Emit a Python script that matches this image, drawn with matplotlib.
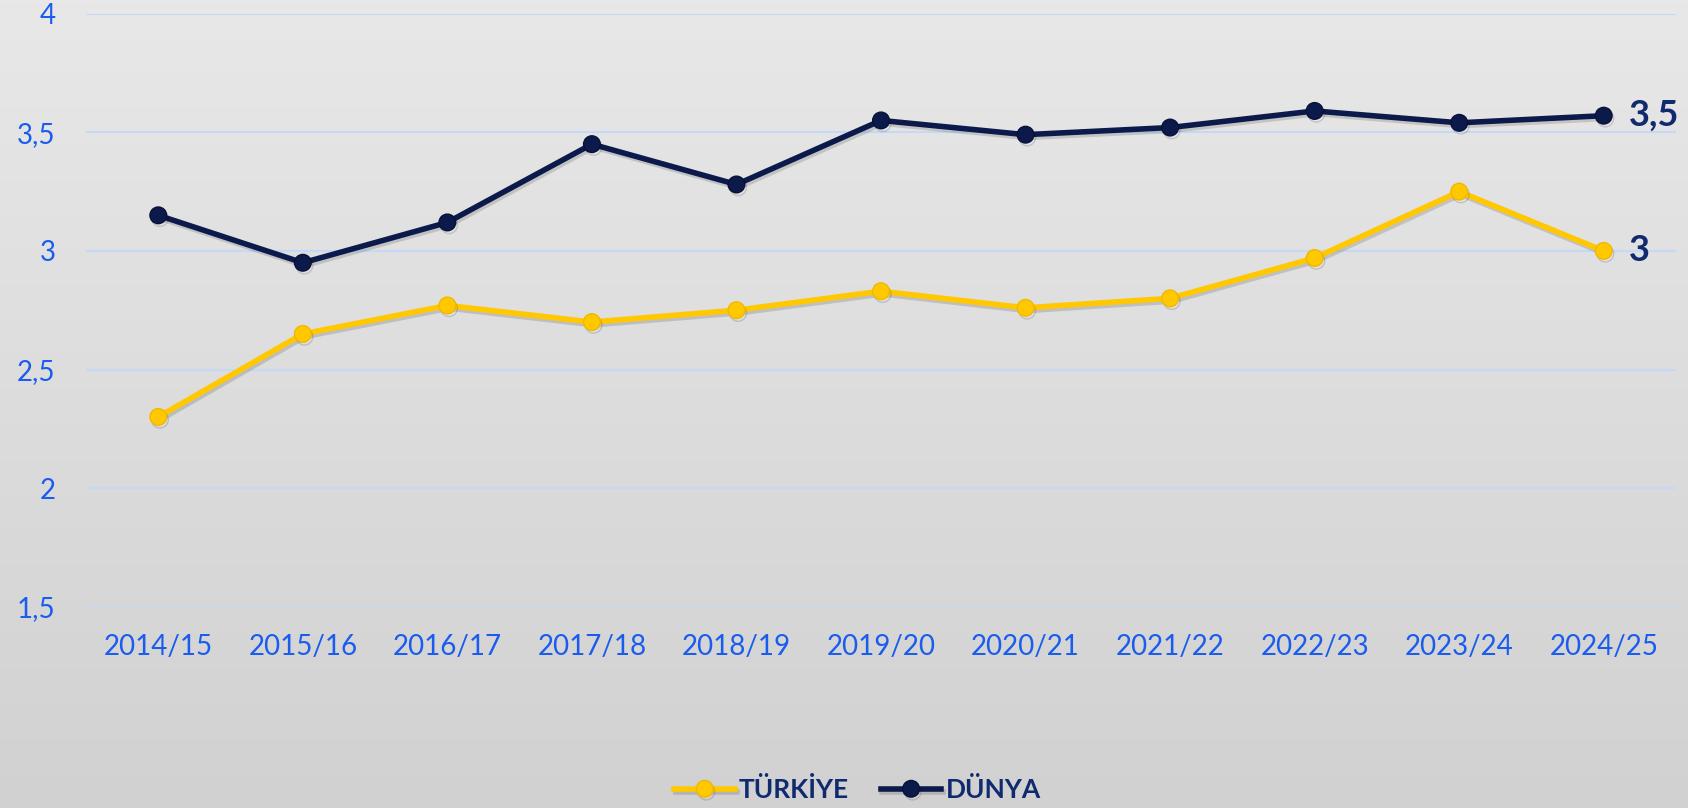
import matplotlib.pyplot as plt
import matplotlib.patheffects as pe
import numpy as np

seasons = ['2014/15', '2015/16', '2016/17', '2017/18', '2018/19', '2019/20',
           '2020/21', '2021/22', '2022/23', '2023/24', '2024/25']
turkiye = [2.30, 2.65, 2.77, 2.70, 2.75, 2.83, 2.76, 2.80, 2.97, 3.25, 3.00]
dunya = [3.15, 2.95, 3.12, 3.45, 3.28, 3.55, 3.49, 3.52, 3.59, 3.54, 3.57]
yticks = [1.5, 2, 2.5, 3, 3.5, 4]
ytick_labels = ['1,5', '2', '2,5', '3', '3,5', '4']
end_labels = ['3', '3,5']

yellow = '#ffc800'
navy = '#0b1a4a'
tick_blue = '#1a5ced'
text_navy = '#0f2a6e'

plt.rcParams['font.family'] = ['Lato', 'DejaVu Sans']

fig = plt.figure(figsize=(16.88, 8.08), dpi=100)

# grey gradient background
bg = fig.add_axes([0, 0, 1, 1], zorder=-10)
grad = np.linspace(0.91, 0.82, 256).reshape(-1, 1)
bg.imshow(np.dstack([grad, grad, grad]), aspect='auto', extent=[0, 1, 0, 1])
bg.axis('off')

ax = fig.add_axes([86 / 1688, 1 - 606.7 / 808, (1676 - 86) / 1688, (606.7 - 13.7) / 808])
ax.patch.set_alpha(0)

x = np.arange(len(seasons))
shadow = [pe.SimpleLineShadow(offset=(1.2, -2), alpha=0.14, rho=0.5), pe.Normal()]

ax.plot(x, turkiye, color=yellow, lw=4, marker='o', markersize=12,
        markerfacecolor=yellow, markeredgecolor='#f2b800', label='TÜRKİYE',
        path_effects=shadow, zorder=3)
ax.plot(x, dunya, color=navy, lw=4, marker='o', markersize=12,
        markerfacecolor=navy, markeredgecolor='#071238', label='DÜNYA',
        path_effects=shadow, zorder=4)

ax.annotate(end_labels[0], (x[-1], turkiye[-1]), xytext=(18, 0), textcoords='offset points',
            va='center', ha='left', fontsize=26, fontweight='bold', color=text_navy)
ax.annotate(end_labels[1], (x[-1], dunya[-1]), xytext=(18, 0), textcoords='offset points',
            va='center', ha='left', fontsize=26, fontweight='bold', color=text_navy)

ax.set_xlim(-0.5, len(seasons) - 0.5)
ax.set_ylim(1.5, 4)
ax.set_yticks(yticks)
ax.set_yticklabels(ytick_labels)
ax.set_xticks(x)
ax.set_xticklabels(seasons)
ax.tick_params(axis='both', length=0, labelcolor=tick_blue, labelsize=20)
ax.tick_params(axis='y', pad=22)
ax.tick_params(axis='x', pad=20)
ax.grid(axis='y', color='#c5d9f7', lw=1.5)
ax.set_axisbelow(True)
for s in ax.spines.values():
    s.set_visible(False)

leg = fig.legend(loc='lower center', bbox_to_anchor=(0.508, -0.022), ncol=2, frameon=False,
                 fontsize=19, handlelength=2.3, handletextpad=0.15, columnspacing=1.2)
for t in leg.get_texts():
    t.set_color(text_navy)
    t.set_fontweight('bold')

fig.savefig('out.png', dpi=100)
